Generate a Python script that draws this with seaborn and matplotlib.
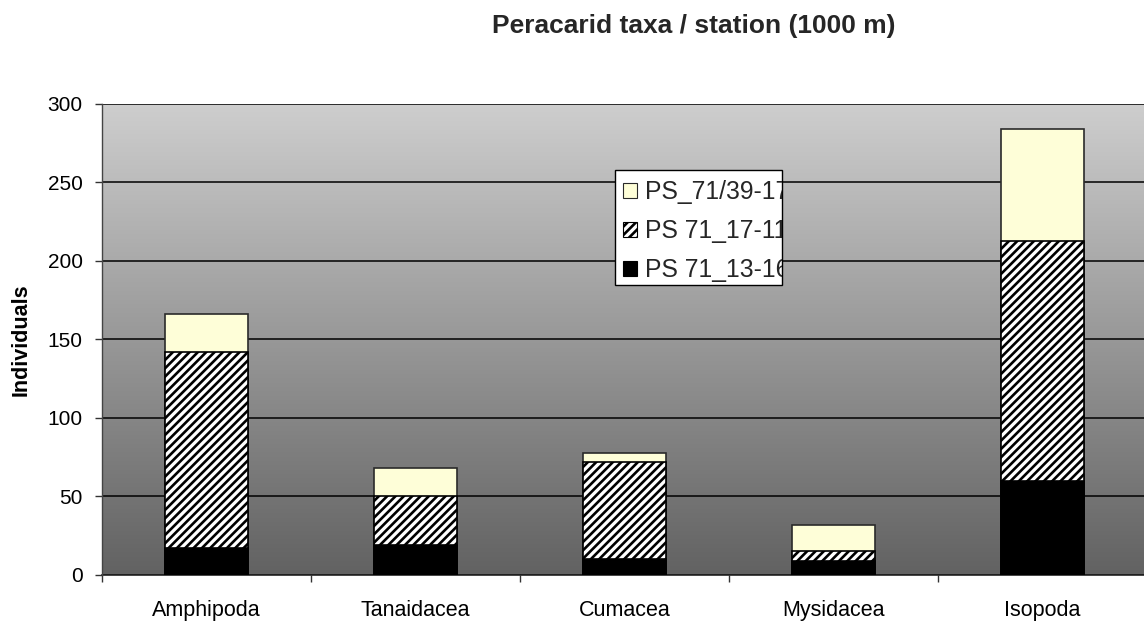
import numpy as np
import pandas as pd
import matplotlib
matplotlib.use("Agg")
import matplotlib.pyplot as plt
from matplotlib.colors import LinearSegmentedColormap
from matplotlib.patches import Patch, Rectangle
from matplotlib.transforms import Bbox, TransformedBbox
import seaborn as sns

# Peracarid individuals per taxon, split by station
taxa = ["Amphipoda", "Tanaidacea", "Cumacea", "Mysidacea", "Isopoda"]
st_13_16 = [17, 19, 10, 9, 60]      # PS 71_13-16
st_17_11 = [125, 31, 62, 6, 153]    # PS 71_17-11
st_39_17 = [24, 18, 6, 17, 71]      # PS_71/39-17
station_names = ["PS_71/39-17", "PS 71_17-11", "PS 71_13-16"]
y_ticks = [0, 50, 100, 150, 200, 250, 300]

sns.set_theme(style="white")
plt.rcParams["font.family"] = ["Liberation Sans", "DejaVu Sans"]
plt.rcParams["hatch.linewidth"] = 1.9

df = pd.DataFrame({"taxon": taxa, "a": st_13_16, "b": st_17_11, "c": st_39_17})
df["cum_a"] = df["a"]
df["cum_b"] = df["a"] + df["b"]
df["cum_c"] = df["a"] + df["b"] + df["c"]

fig = plt.figure(figsize=(11.44, 6.26), dpi=100)
fig.patch.set_facecolor("white")
ax = fig.add_axes([0.0892, 0.0815, 0.9135, 0.7524])

# grey gradient plot area
grad = np.linspace(0, 1, 256).reshape(-1, 1)
cmap = LinearSegmentedColormap.from_list("bg", ["#626262", "#cecece"])
ax.imshow(grad, cmap=cmap, origin="lower", aspect="auto",
          extent=[0, 1, 0, 1], transform=ax.transAxes, zorder=0)

edge = "#2a2a2a"
sns.barplot(data=df, x="taxon", y="cum_c", color="#fefed8", saturation=1,
            width=0.4, edgecolor=edge, linewidth=1.2, ax=ax, zorder=2)
sns.barplot(data=df, x="taxon", y="cum_b", color="white", saturation=1,
            width=0.4, edgecolor="black", linewidth=1.2, hatch="////", ax=ax, zorder=3)
sns.barplot(data=df, x="taxon", y="cum_a", color="black", saturation=1,
            width=0.4, edgecolor="black", linewidth=1.2, ax=ax, zorder=4)

ax.set_xlim(-0.5, 4.5)
ax.set_ylim(0, 300)
ax.set_yticks(y_ticks)
ax.set_axisbelow(True)
ax.yaxis.grid(True, color="black", linewidth=1.1, zorder=1)
ax.xaxis.grid(False)

for s in ["top", "right"]:
    ax.spines[s].set_visible(False)
ax.spines["left"].set_color("#444444")
ax.spines["bottom"].set_color("#222222")
ax.spines["left"].set_linewidth(1.0)
ax.spines["bottom"].set_linewidth(1.2)
ax.spines["left"].set_zorder(5)

ax.set_xlabel("")
ax.set_ylabel("Individuals", fontsize=15.5, fontweight="bold", color="black")
ax.yaxis.set_label_coords(-0.067, 0.5)

ax.tick_params(axis="y", which="major", direction="out", length=5, width=1,
               color="#333333", pad=9, labelsize=15, labelcolor="black", left=True)
ax.tick_params(axis="x", which="major", length=0, pad=18, labelsize=15.5,
               labelcolor="black")
ax.set_xticks(np.arange(-0.5, 5.0, 1.0), minor=True)
ax.tick_params(axis="x", which="minor", direction="out", length=5, width=1,
               color="#333333", bottom=True)

fig.text(0.606, 0.958, "Peracarid taxa / station (1000 m)", ha="center",
         va="center", fontsize=19, fontweight="bold")

# legend in a fixed white box; labels run out past its right edge
box = [0.491, 0.616, 0.651, 0.860]
frame = Rectangle((box[0], box[1]), box[2] - box[0], box[3] - box[1],
                  transform=ax.transAxes, facecolor="white", edgecolor="black",
                  linewidth=1.0, zorder=6, clip_on=False)
ax.add_patch(frame)
handles = [
    Patch(facecolor="#fefed8", edgecolor=edge, linewidth=0.8),
    Patch(facecolor="white", edgecolor="black", hatch="////", linewidth=0.8),
    Patch(facecolor="black", edgecolor="black", linewidth=0.8),
]
leg = ax.legend(handles, station_names, loc="upper left",
                bbox_to_anchor=(box[0], box[3] - 0.005), frameon=False, fontsize=17.8,
                handlelength=0.54, handleheight=0.54, handletextpad=0.33,
                labelspacing=0.6, borderpad=0.33, borderaxespad=0.0)
leg.set_zorder(7)
clip = TransformedBbox(Bbox([[box[0], box[1]], [box[2], box[3]]]), ax.transAxes)
for t in leg.get_texts():
    t.set_clip_box(clip)
    t.set_clip_on(True)

fig.savefig("out.png", dpi=100)
